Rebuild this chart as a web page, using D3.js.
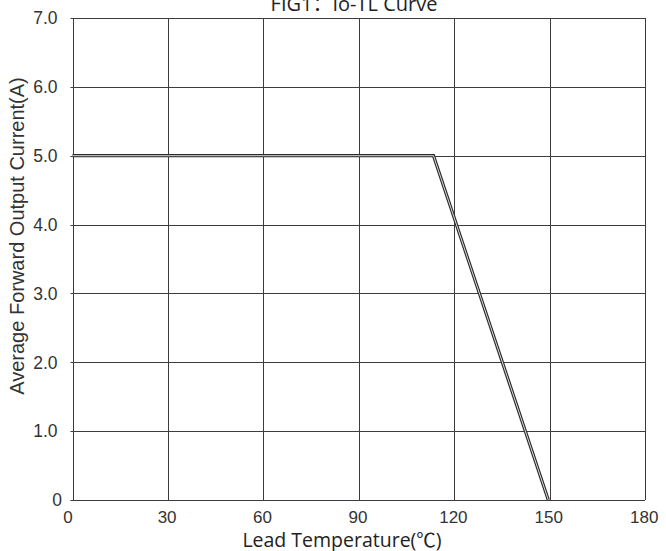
<!DOCTYPE html>
<html>
<head>
<meta charset="utf-8">
<script src="https://cdn.jsdelivr.net/npm/d3@7"></script>
<style>
body{margin:0;background:#fff;}
svg{display:block;}
</style>
</head>
<body>
<svg id="c" width="666" height="551"></svg>
<script>
const xTicks = [0, 30, 60, 90, 120, 150, 180];
const yTicks = [0, 1, 2, 3, 4, 5, 6, 7];
const yTickLabels = ["0", "1.0", "2.0", "3.0", "4.0", "5.0", "6.0", "7.0"];
const curveTemp = [0, 113.5, 149.6];
const curveCurrent = [5.0, 5.0, 0];
const titleText = "FIG1：Io-TL Curve";
const xTitle = "Lead Temperature(℃)";
const yTitle = "Average Forward Output Current(A)";

const svg = d3.select("#c");
const m = {l: 72.5, r: 645, t: 18, b: 500};
const x = d3.scaleLinear().domain([0, 180]).range([m.l, m.r]);
const y = d3.scaleLinear().domain([0, 7]).range([m.b, m.t]);
const gridColor = "#3c3c3c";
const px = v => Math.round(v) + 0.5;

// grid
svg.append("g").selectAll("line").data(xTicks).join("line")
  .attr("x1", d => px(x(d))).attr("x2", d => px(x(d)))
  .attr("y1", m.t).attr("y2", m.b)
  .attr("stroke", gridColor).attr("stroke-width", 1);
svg.append("g").selectAll("line").data(yTicks).join("line")
  .attr("x1", m.l - 2).attr("x2", m.r)
  .attr("y1", d => px(y(d))).attr("y2", d => px(y(d)))
  .attr("stroke", gridColor).attr("stroke-width", 1);

// tick labels
svg.append("g").selectAll("text").data(yTicks).join("text")
  .attr("x", d => d === 0 ? 62 : 57.5).attr("y", d => y(d)).attr("dy", "0.36em")
  .attr("text-anchor", "end")
  .attr("font-family", "Liberation Sans, Arial, sans-serif")
  .attr("font-size", 17.5).attr("fill", "#333")
  .text((d, i) => yTickLabels[i]);
svg.append("g").selectAll("text").data(xTicks).join("text")
  .attr("x", d => d === 0 ? x(d) - 4.5 : x(d) - 0.8).attr("y", 522.5)
  .attr("text-anchor", "middle")
  .attr("font-family", "Liberation Sans, Arial, sans-serif")
  .attr("font-size", 17).attr("fill", "#333")
  .text(d => d);

// curve
const pts = curveTemp.map((t, i) => [x(t), y(curveCurrent[i])]);
const line = d3.line();
svg.append("path").attr("d", line(pts)).attr("fill", "none")
  .attr("stroke", "#2a2a2a").attr("stroke-width", 3.2).attr("stroke-linejoin", "miter");
svg.append("path").attr("d", line(pts)).attr("fill", "none")
  .attr("stroke", "#ddd").attr("stroke-width", 1).attr("stroke-linejoin", "miter");

// titles
svg.append("text").attr("x", 354).attr("y", 11).attr("text-anchor", "middle")
  .attr("font-family", "Open Sans, Noto Sans CJK SC, sans-serif")
  .attr("font-size", 20).attr("fill", "#222").text(titleText);
svg.append("text").attr("x", 342).attr("y", 546.5).attr("text-anchor", "middle")
  .attr("font-family", "Open Sans, Noto Sans CJK SC, sans-serif")
  .attr("font-size", 19.5).attr("fill", "#222").text(xTitle);
svg.append("text").attr("transform", "translate(24,236) rotate(-90)")
  .attr("text-anchor", "middle")
  .attr("font-family", "Liberation Sans, Arial, sans-serif")
  .attr("font-size", 20).attr("fill", "#333").text(yTitle);
</script>
</body>
</html>
